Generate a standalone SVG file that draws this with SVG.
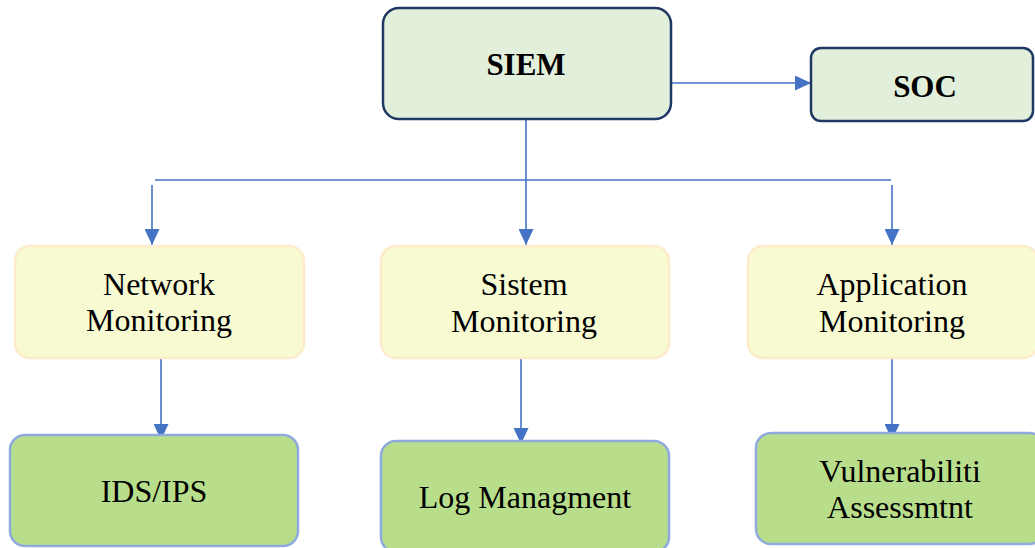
<svg xmlns="http://www.w3.org/2000/svg" width="1035" height="548" viewBox="0 0 1035 548">
<defs>
<style>
.t{font-family:"Liberation Serif","Times New Roman",serif;font-size:32px;fill:#000;text-anchor:middle}
.b{font-weight:bold;font-size:31px}
.top{fill:#e2efda;stroke:#1f3864;stroke-width:2.5}
.mid{fill:#f8fad2;stroke:#fdeccb;stroke-width:2.5}
.bot{fill:#b8de8c;stroke:#8faadc;stroke-width:2.5}
.c{stroke:#4472c4;stroke-width:1.6;fill:none}
</style>
<marker id="ah" markerUnits="userSpaceOnUse" markerWidth="16" markerHeight="15" refX="16" refY="7.5" orient="auto">
<path d="M0,0 L16,7.5 L0,15 z" fill="#4472c4"/>
</marker>
</defs>
<g id="connectors">
<line class="c" x1="672" y1="83" x2="811" y2="83" marker-end="url(#ah)"/>
<line class="c" x1="526" y1="119" x2="526" y2="245" marker-end="url(#ah)"/>
<line class="c" x1="155" y1="180" x2="891" y2="180"/>
<line class="c" x1="152" y1="185" x2="152" y2="245" marker-end="url(#ah)"/>
<line class="c" x1="892" y1="185" x2="892" y2="245" marker-end="url(#ah)"/>
<line class="c" x1="161" y1="358" x2="161" y2="440" marker-end="url(#ah)"/>
<line class="c" x1="521" y1="358" x2="521" y2="444" marker-end="url(#ah)"/>
<line class="c" x1="892" y1="358" x2="892" y2="440" marker-end="url(#ah)"/>
</g>
<g id="siem">
<rect class="top" x="383" y="8" width="288" height="111" rx="16"/>
<text class="t b" x="526" y="75">SIEM</text>
</g>
<g id="soc">
<rect class="top" x="811" y="48" width="222" height="73" rx="10"/>
<text class="t b" x="925" y="97">SOC</text>
</g>
<g id="network">
<rect class="mid" x="15" y="246" width="289" height="112" rx="15"/>
<text class="t" x="159" y="295">Network</text>
<text class="t" x="159" y="331">Monitoring</text>
</g>
<g id="sistem">
<rect class="mid" x="381" y="246" width="288" height="112" rx="15"/>
<text class="t" x="524" y="295">Sistem</text>
<text class="t" x="524" y="332">Monitoring</text>
</g>
<g id="application">
<rect class="mid" x="748" y="246" width="290" height="112" rx="15"/>
<text class="t" x="892" y="295">Application</text>
<text class="t" x="892" y="332">Monitoring</text>
</g>
<g id="idsips">
<rect class="bot" x="10" y="435" width="288" height="111" rx="15"/>
<text class="t" x="154" y="502">IDS/IPS</text>
</g>
<g id="log">
<rect class="bot" x="381" y="441" width="288" height="111" rx="15"/>
<text class="t" x="525" y="508">Log Managment</text>
</g>
<g id="vuln">
<rect class="bot" x="756" y="433" width="288" height="111" rx="15"/>
<text class="t" x="900" y="482">Vulnerabiliti</text>
<text class="t" x="900" y="518">Assessmtnt</text>
</g>
</svg>
